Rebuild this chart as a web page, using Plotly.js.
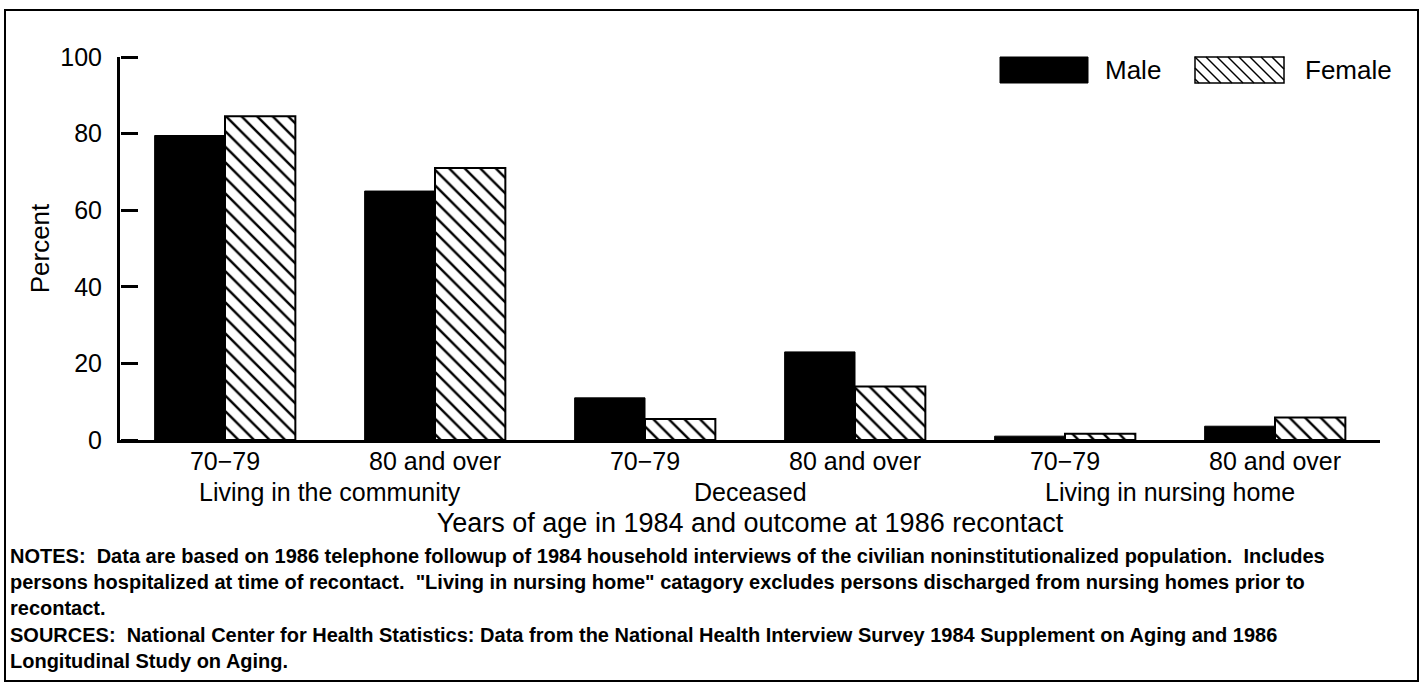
<!DOCTYPE html>
<html>
<head>
<meta charset="utf-8">
<script src="https://cdn.plot.ly/plotly-3.0.1.min.js"></script>
<style>
  html, body { margin: 0; padding: 0; background: #fff; }
  #grafica { width: 1426px; height: 686px; }
</style>
</head>
<body>
<div id="grafica"></div>
<script>
// datos
const outcomes = ["Living in the community", "Living in the community", "Deceased", "Deceased", "Living in nursing home", "Living in nursing home"];
const ageGroups = ["70\u221279", "80 and over", "70\u221279", "80 and over", "70\u221279", "80 and over"];
const maleValues = [79.5, 65, 11, 23, 1, 3.6];
const femaleValues = [84.5, 71, 5.5, 14, 1.6, 5.9];
const yTicks = [0, 20, 40, 60, 80, 100];

const notesText = "NOTES:  Data are based on 1986 telephone followup of 1984 household interviews of the civilian noninstitutionalized population.  Includes<br>" +
  "persons hospitalized at time of recontact.  \"Living in nursing home\" catagory excludes persons discharged from nursing homes prior to<br>" +
  "recontact.";
const sourcesText = "SOURCES:  National Center for Health Statistics: Data from the National Health Interview Survey 1984 Supplement on Aging and 1986<br>" +
  "Longitudinal Study on Aging.";

const FONT = "Liberation Sans, Arial, Helvetica, sans-serif";

// claves únicas por barra; el texto del tick es solo la edad
const keys = outcomes.map((o, i) => o + " | " + ageGroups[i]);
const groupNames = outcomes.filter((o, i) => outcomes.indexOf(o) === i);

// margenes del area de trazado
const M = { l: 120, r: 46, t: 57, b: 246 };
const W = 1426 - M.l - M.r;
const H = 686 - M.t - M.b;
function px(x) { return (x - M.l) / W; }
function py(y) { return (686 - M.b - y) / H; }

const traceMale = {
  x: keys,
  y: maleValues,
  name: "Male",
  type: "bar",
  marker: { color: "black", line: { color: "black", width: 1 } },
  hoverinfo: "skip"
};

const traceFemale = {
  x: keys,
  y: femaleValues,
  name: "Female",
  type: "bar",
  marker: {
    color: "white",
    pattern: { shape: "\\", size: 11, solidity: 0.22, fgcolor: "black", bgcolor: "white" },
    line: { color: "black", width: 2 }
  },
  hoverinfo: "skip"
};

// traza vacía para que exista el eje auxiliar de las marcas
const traceTicks = { type: "scatter", x: [], y: [], yaxis: "y2", hoverinfo: "skip", showlegend: false };

// marco y leyenda dibujada a mano (cajas anchas como en el original)
const shapes = [
  { type: "rect", xref: "paper", yref: "paper", x0: px(5), x1: px(1418), y0: py(681), y1: py(10),
    line: { color: "black", width: 2 }, fillcolor: "rgba(0,0,0,0)" },
  { type: "rect", xref: "paper", yref: "paper", x0: px(1000), x1: px(1088), y0: py(83), y1: py(57),
    line: { color: "black", width: 1 }, fillcolor: "black" },
  { type: "rect", xref: "paper", yref: "paper", x0: px(1195), x1: px(1284), y0: py(83), y1: py(57),
    line: { color: "black", width: 1.5 }, fillcolor: "white" }
];
// rayado de la caja Female
const hx0 = 1195, hx1 = 1284, hy0 = 57, hy1 = 83, hh = hy1 - hy0;
for (let s = hx0 - hh + 4; s < hx1; s += 11) {
  let xa = s, ya = hy0, xb = s + hh, yb = hy1;
  if (xa < hx0) { ya = hy0 + (hx0 - xa); xa = hx0; }
  if (xb > hx1) { yb = hy1 - (xb - hx1); xb = hx1; }
  if (yb <= ya) continue;
  shapes.push({ type: "line", xref: "paper", yref: "paper", x0: px(xa), y0: py(ya), x1: px(xb), y1: py(yb),
    line: { color: "black", width: 1.5 } });
}

const annotations = [
  { xref: "paper", yref: "paper", x: px(1103), y: py(70), xanchor: "left", yanchor: "middle",
    text: "Male", showarrow: false, font: { family: FONT, size: 26, color: "black" } },
  { xref: "paper", yref: "paper", x: px(1303), y: py(70), xanchor: "left", yanchor: "middle",
    text: "Female", showarrow: false, font: { family: FONT, size: 26, color: "black" } },
  { xref: "paper", yref: "paper", x: px(8), y: py(543), xanchor: "left", yanchor: "top", align: "left",
    text: "<b>" + notesText + "</b>", showarrow: false, font: { family: FONT, size: 20, color: "black" } },
  { xref: "paper", yref: "paper", x: px(8), y: py(622), xanchor: "left", yanchor: "top", align: "left",
    text: "<b>" + sourcesText + "</b>", showarrow: false, font: { family: FONT, size: 20, color: "black" } }
];
// rótulos de grupo, centrados bajo sus dos barras
groupNames.forEach(function (g) {
  const idx = outcomes.map((o, i) => (o === g ? i : -1)).filter(i => i >= 0);
  const centro = (idx[0] + idx[idx.length - 1]) / 2;
  annotations.push({ xref: "x", yref: "paper", x: centro, y: py(492), xanchor: "center", yanchor: "middle",
    text: g, showarrow: false, font: { family: FONT, size: 25, color: "black" } });
});

const layout = {
  width: 1426,
  height: 686,
  margin: M,
  paper_bgcolor: "white",
  plot_bgcolor: "white",
  showlegend: false,
  barmode: "group",
  bargap: 0.33,
  bargroupgap: 0,
  font: { family: FONT, color: "black" },
  xaxis: {
    type: "category",
    range: [-0.5, 5.5],
    tickmode: "array",
    tickvals: keys,
    ticktext: ageGroups,
    showline: true,
    linecolor: "black",
    linewidth: 3,
    ticks: "",
    ticklabelstandoff: -3,
    showgrid: false,
    tickfont: { family: FONT, size: 25, color: "black" },
    title: { text: "Years of age in 1984 and outcome at 1986 recontact", font: { family: FONT, size: 27, color: "black" }, standoff: 40 }
  },
  yaxis: {
    range: [0, 100],
    tickmode: "array",
    tickvals: yTicks,
    showline: true,
    linecolor: "black",
    linewidth: 3,
    ticks: "",
    ticklabelstandoff: 10,
    showgrid: false,
    zeroline: false,
    tickfont: { family: FONT, size: 25, color: "black" },
    title: { text: "Percent", font: { family: FONT, size: 26, color: "black" }, standoff: 4 }
  },
  // eje auxiliar solo para las marcas hacia dentro
  yaxis2: {
    overlaying: "y",
    side: "right",
    anchor: "free",
    position: 0,
    range: [0, 100],
    tickmode: "array",
    tickvals: yTicks,
    ticks: "outside",
    ticklen: 17,
    tickwidth: 3,
    tickcolor: "black",
    showticklabels: false,
    showline: false,
    showgrid: false,
    zeroline: false
  },
  shapes: shapes,
  annotations: annotations
};

Plotly.newPlot("grafica", [traceMale, traceFemale, traceTicks], layout, { displayModeBar: false, staticPlot: true });
</script>
</body>
</html>
